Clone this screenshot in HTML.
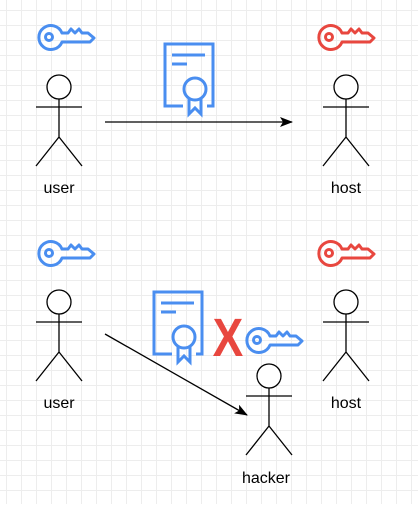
<!DOCTYPE html>
<html><head><style>
html,body{margin:0;padding:0;background:#fff}
body{width:418px;height:504px;overflow:hidden;
background-image:linear-gradient(#ededed 1px,transparent 1px),linear-gradient(90deg,#ededed 1px,transparent 1px);
background-size:15px 15px;background-position:0 10px,6px 0}
text{font-family:"Liberation Sans",sans-serif;font-size:16px}
</style></head><body>
<svg width="418" height="504" viewBox="0 0 418 504" xmlns="http://www.w3.org/2000/svg">
<defs>
<g id="key" fill="none" stroke-width="3" stroke-linejoin="round">
<path d="M11 -4 L17 -4 L20 -8 L24 -4 L28 -8 L31 -4 L37 -4 L43 1 L39 5 L11 5 A12 12 0 1 1 11 -4 Z"/>
<circle cx="-2" cy="0" r="3.5"/>
</g>
<g id="actor" fill="none" stroke="#000" stroke-width="1.3">
<circle cx="0" cy="0" r="12" fill="#fff"/>
<path d="M0 12 V50 M-23 20 H23 M0 50 L-23 79 M0 50 L23 79"/>
</g>
<g id="cert" fill="none" stroke="#4a8ef0" stroke-width="3">
<path d="M20 64 H2 V2 H50 V64 H44"/>
<path d="M9 13 H42 M9 22 H24"/>
<circle cx="32" cy="47" r="11"/>
<path d="M26 57 V72 L32 66 L38 72 V57"/>
</g>
<marker id="ah" markerWidth="13" markerHeight="10" refX="12" refY="5" orient="auto" markerUnits="userSpaceOnUse"><path d="M0 0 L13 5 L0 10 L3 5 Z" fill="#000"/></marker>
</defs>
<use href="#key" x="51" y="37" stroke="#4a8ef0"/>
<use href="#key" x="331" y="37" stroke="#e8473f"/>
<use href="#key" x="51" y="253" stroke="#4a8ef0"/>
<use href="#key" x="331" y="253" stroke="#e8473f"/>
<use href="#key" x="259" y="340" stroke="#4a8ef0"/>
<use href="#actor" x="59" y="87"/>
<use href="#actor" x="346" y="87"/>
<use href="#actor" x="59" y="302"/>
<use href="#actor" x="346" y="302"/>
<use href="#actor" x="269" y="376"/>
<use href="#cert" x="163" y="42"/>
<use href="#cert" x="152" y="290"/>
<text x="59" y="193" text-anchor="middle">user</text>
<text x="346" y="193" text-anchor="middle">host</text>
<text x="59" y="408" text-anchor="middle">user</text>
<text x="346" y="408" text-anchor="middle">host</text>
<text x="266" y="483" text-anchor="middle">hacker</text>
<line x1="105" y1="122" x2="292" y2="122" stroke="#000" stroke-width="1.3" marker-end="url(#ah)"/>
<line x1="105" y1="334" x2="247" y2="415" stroke="#000" stroke-width="1.3" marker-end="url(#ah)"/>
<text transform="translate(228,356) scale(0.85,1)" text-anchor="middle" fill="#e8473f" style="font-size:54px;font-weight:bold">X</text>
</svg>
</body></html>
